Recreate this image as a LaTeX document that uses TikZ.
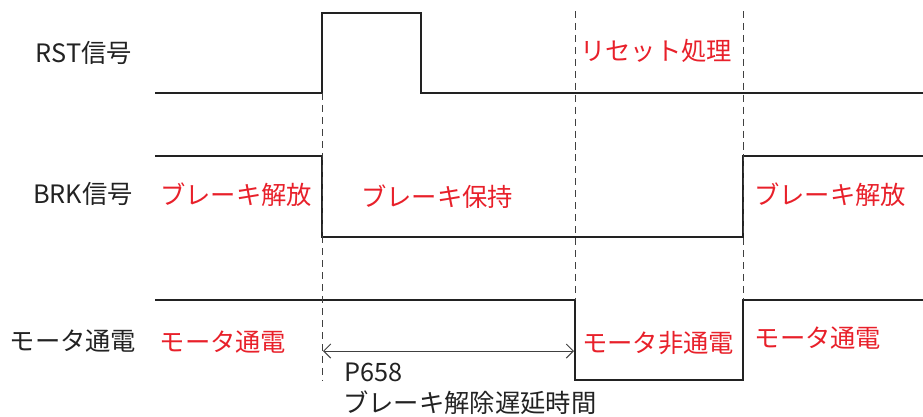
\documentclass[tikz,border=0pt]{standalone}
\usepackage{fontspec}
\setmainfont{Noto Sans CJK JP}
\usetikzlibrary{arrows.meta}
\definecolor{sigred}{HTML}{E8202A}
\definecolor{sigblack}{HTML}{222222}
\begin{document}
\begin{tikzpicture}[x=0.025cm, y=-0.025cm,
    every node/.style={inner sep=0pt, font=\fontsize{18}{21}\selectfont},
    signame/.style={text=sigblack},
    sigstate/.style={text=sigred},
    wave/.style={line width=1.8pt, draw=sigblack, line join=miter},
    guide/.style={line width=0.6pt, draw=black!75, dash pattern=on 5pt off 3.5pt}]
            \useasboundingbox (0,0) rectangle (923,416);
            % signal names
            \node[signame] (rst) at (84,53) {RST信号};
            \node[signame] (brk) at (83,194) {BRK信号};
            \node[signame] (mot) at (73,341) {モータ通電};
            % waveforms
            \draw[wave] (155,93) -- (322,93) -- (322,13) -- (421,13) -- (421,93) -- (923,93);
            \draw[wave] (155,156) -- (322,156) -- (322,237) -- (743,237) -- (743,156) -- (923,156);
            \draw[wave] (155,300) -- (575,300) -- (575,380) -- (743,380) -- (743,300) -- (923,300);
            % timing guides
            \draw[guide] (322,93) -- (322,381);
            \draw[guide] (575,11) -- (575,300);
            \draw[guide] (743,11) -- (743,300);
            % states
            \node[sigstate] (rel1) at (236,195) {ブレーキ解放};
            \node[sigstate] (hold) at (437,197) {ブレーキ保持};
            \node[sigstate] (rset) at (656,51) {リセット処理};
            \node[sigstate] (rel2) at (830,195) {ブレーキ解放};
            \node[sigstate] (on1) at (223,342) {モータ通電};
            \node[sigstate] (off) at (658,343) {モータ非通電};
            \node[sigstate] (on2) at (818,338) {モータ通電};
            % delay
            \coordinate (d1) at (323,351);
            \coordinate (d2) at (574,351);
            \draw[line width=0.7pt, draw=black!75, {Straight Barb[length=5pt,width=10pt]}-{Straight Barb[length=5pt,width=10pt]}] (d1) -- (d2);
            \node[signame, anchor=west] (par) at (344,372) {P658};
            \node[signame, anchor=west] (dly) at (343,403) {ブレーキ解除遅延時間};
        \end{tikzpicture}
\end{document}
